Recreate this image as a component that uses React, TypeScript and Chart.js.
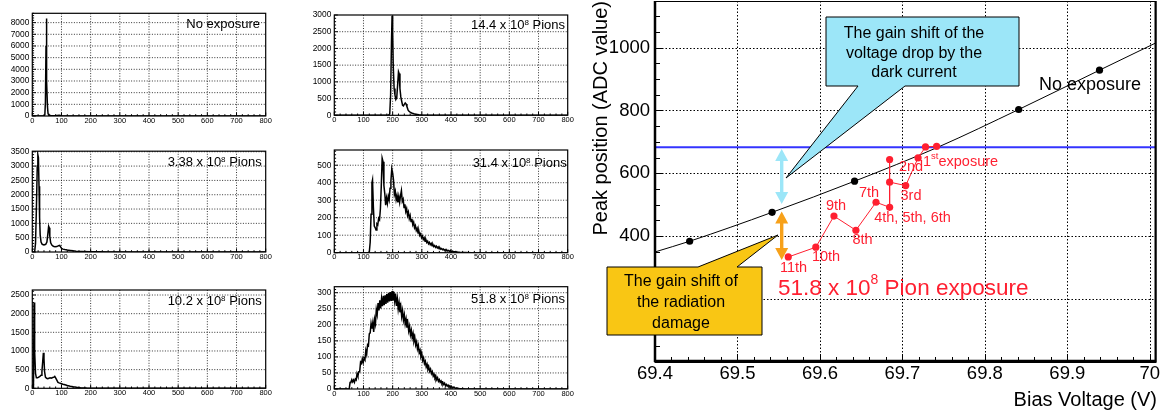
import React, { useEffect, useRef } from 'react';
import { Chart, registerables } from 'chart.js';

Chart.register(...registerables);

const FONT = '"Liberation Sans", Arial, Helvetica, sans-serif';

// ---------------- Main chart data ----------------
const noExposureVoltage = [69.442, 69.542, 69.642, 69.841, 69.939];
const noExposurePeak = [384, 476, 575, 803, 928];
const fitVoltage = [69.4, 69.442, 69.542, 69.642, 69.743, 69.841, 69.939, 70.0075];
const fitPeak = [350, 384, 476, 575, 683, 803, 928, 1015];
const exposureVoltage = [69.7415, 69.728, 69.719, 69.704, 69.6845, 69.6845, 69.6845, 69.668, 69.6436, 69.617, 69.595, 69.5616];
const exposurePeak = [686, 684, 649, 561, 572, 644, 492, 508, 419, 464, 365, 334];
const referenceVoltage = [69.39, 70.0075];
const referencePeak = [683, 683];
const exposureLabels = ['2nd', '3rd', '4th, 5th, 6th', '7th', '8th', '9th', '10th', '11th'];
const mainYTicks = [0, 200, 400, 600, 800, 1000];
const mainXTicks = [69.4, 69.5, 69.6, 69.7, 69.8, 69.9, 70];

// ---------------- Small histogram data (ADC value, counts) ----------------
const adcTicks = [0, 100, 200, 300, 400, 500, 600, 700, 800];

const noExpAdc = [0, 40, 43, 45, 47, 48, 49, 50, 52, 54, 57, 60, 75, 85, 92, 100, 110, 130, 800];
const noExpCounts = [0, 0, 100, 1200, 6000, 8350, 6500, 3000, 800, 200, 50, 20, 20, 50, 60, 30, 10, 0, 0];
const noExpYTicks = [0, 1000, 2000, 3000, 4000, 5000, 6000, 7000, 8000];

const p338Adc = [0, 8, 11, 14, 17, 19, 21, 23, 25, 27, 30, 34, 40, 46, 50, 53, 56, 58, 60, 63, 67, 72, 78, 84, 90, 94, 97, 100, 105, 112, 120, 130, 140, 150, 170, 200, 230, 260, 800];
const p338Counts = [0, 0, 300, 1500, 3000, 3400, 3300, 2300, 1200, 600, 350, 270, 250, 270, 350, 600, 900, 850, 550, 320, 240, 200, 180, 190, 220, 230, 180, 130, 100, 85, 70, 55, 40, 30, 20, 10, 5, 0, 0];
const p338YTicks = [0, 500, 1000, 1500, 2000, 2500, 3000, 3500];

const p102Adc = [0, 4, 6, 8, 11, 14, 18, 22, 26, 30, 33, 36, 38, 40, 42, 45, 49, 53, 57, 61, 65, 70, 74, 77, 80, 84, 88, 92, 98, 105, 112, 120, 130, 140, 152, 165, 186, 210, 240, 800];
const p102Counts = [0, 0, 2300, 1000, 400, 280, 280, 300, 320, 350, 450, 750, 950, 800, 450, 300, 270, 260, 270, 280, 270, 290, 300, 320, 280, 220, 160, 145, 130, 110, 95, 75, 55, 40, 27, 18, 9, 3, 0, 0];
const p102YTicks = [0, 500, 1000, 1500, 2000, 2500];

const p144Adc = [0, 185, 190, 193, 196, 198, 200, 202, 205, 208, 211, 214, 217, 220, 222, 225, 228, 231, 234, 237, 240, 243, 246, 249, 252, 256, 260, 265, 270, 275, 280, 290, 300, 310, 800];
const p144Counts = [0, 0, 40, 600, 2200, 2980, 2500, 1500, 800, 600, 470, 520, 900, 1300, 1250, 800, 550, 420, 300, 280, 330, 370, 340, 260, 180, 120, 95, 70, 55, 40, 30, 15, 5, 0, 0];
const p144YTicks = [0, 500, 1000, 1500, 2000, 2500, 3000];

const p314Adc = [0, 117, 120, 123, 126, 129, 131, 134, 137, 140, 143, 146, 149, 152, 155, 158, 161, 164, 167, 170, 173, 176, 179, 182, 185, 188, 191, 194, 197, 200, 203, 206, 209, 212, 215, 218, 221, 224, 227, 230, 233, 236, 239, 242, 245, 248, 251, 254, 257, 260, 263, 266, 269, 272, 275, 278, 281, 284, 287, 290, 293, 296, 299, 302, 305, 308, 311, 314, 317, 320, 323, 326, 329, 332, 335, 338, 341, 344, 347, 350, 353, 356, 359, 362, 365, 368, 371, 374, 377, 380, 383, 386, 389, 392, 395, 398, 401, 405, 410, 415, 420, 425, 430, 440, 450, 470, 800];
const p314Counts = [0, 0, 5, 60, 220, 400, 416, 260, 152, 144, 130, 165, 159, 197, 188, 250, 380, 540, 520, 385, 338, 272, 313, 282, 323, 302, 368, 410, 480, 455, 415, 333, 352, 303, 327, 288, 322, 288, 327, 355, 294, 306, 259, 277, 235, 252, 214, 232, 195, 212, 178, 193, 160, 174, 143, 155, 127, 139, 112, 123, 99, 108, 86, 95, 76, 85, 66, 74, 58, 66, 51, 59, 46, 53, 40, 47, 35, 41, 31, 37, 27, 33, 23, 28, 20, 24, 17, 21, 14, 18, 11, 15, 10, 13, 8, 11, 6, 9, 4, 6, 3, 3, 2, 1, 1, 0, 0];
const p314YTicks = [0, 100, 200, 300, 400, 500];

const p518Adc = [0, 51, 54, 57, 60, 63, 66, 69, 72, 75, 78, 81, 84, 87, 90, 93, 96, 99, 102, 105, 108, 111, 114, 117, 120, 123, 126, 129, 132, 135, 138, 141, 144, 147, 150, 153, 156, 159, 162, 165, 168, 171, 174, 177, 180, 183, 186, 189, 192, 195, 198, 201, 204, 207, 210, 213, 216, 219, 222, 225, 228, 231, 234, 237, 240, 243, 246, 249, 252, 255, 258, 261, 264, 267, 270, 273, 276, 279, 282, 285, 288, 291, 294, 297, 300, 303, 306, 309, 312, 315, 318, 321, 324, 327, 330, 333, 336, 339, 342, 345, 348, 351, 354, 357, 360, 363, 366, 369, 372, 375, 378, 381, 384, 387, 390, 393, 396, 399, 402, 406, 410, 415, 420, 430, 440, 450, 800];
const p518Counts = [0, 0, 20, 22, 29, 22, 28, 21, 31, 28, 48, 40, 54, 54, 84, 80, 94, 82, 96, 91, 120, 108, 138, 135, 172, 175, 204, 188, 207, 178, 217, 203, 247, 232, 268, 245, 276, 251, 282, 258, 290, 261, 292, 265, 296, 269, 300, 273, 302, 274, 305, 275, 303, 274, 297, 259, 281, 249, 269, 239, 256, 226, 244, 215, 231, 203, 218, 191, 206, 181, 195, 169, 183, 160, 173, 149, 160, 137, 147, 125, 136, 113, 121, 101, 109, 89, 97, 79, 86, 69, 77, 61, 68, 55, 62, 48, 54, 40, 46, 35, 40, 29, 35, 24, 29, 21, 25, 17, 21, 14, 18, 10, 14, 9, 12, 7, 10, 5, 8, 3, 6, 2, 3, 1, 1, 0, 0];
const p518YTicks = [0, 50, 100, 150, 200, 250, 300];

// ---------------- helpers ----------------
function drawParts(ctx: any, x: number, y: number, parts: [string, number, number][], align: 'left' | 'right') {
  ctx.textBaseline = 'alphabetic';
  ctx.textAlign = 'left';
  const widths = parts.map(([t, s]) => { ctx.font = `${s}px ${FONT}`; return ctx.measureText(t).width; });
  const total = widths.reduce((a, b) => a + b, 0);
  let cx = align === 'right' ? x - total : x;
  parts.forEach(([t, s, r], i) => { ctx.font = `${s}px ${FONT}`; ctx.fillText(t, cx, y - r); cx += widths[i]; });
}

function fixAxis(size: number, horizontal: boolean) {
  return (s: any) => {
    if (horizontal) s.height = size; else s.width = size;
    s.paddingLeft = 0; s.paddingRight = 0; s.paddingTop = 0; s.paddingBottom = 0;
  };
}

function setTicks(values: number[]) {
  return (s: any) => { s.ticks = values.map((v) => ({ value: v })); };
}

// ---------------- small panel ----------------
type Area = { L: number; R: number; T: number; B: number };

function HistPanel(p: { area: Area; adc: number[]; counts: number[]; yMax: number; yTicks: number[]; parts: [string, number, number][]; labelRight: number; labelBase: number }) {
  const ref = useRef<HTMLCanvasElement>(null);
  const cx = Math.floor(p.area.L) - 32;
  const cy = Math.floor(p.area.T) - 10;
  const cw = Math.ceil(p.area.R) + 8 - cx;
  const ch = Math.ceil(p.area.B) + 18 - cy;
  useEffect(() => {
    const yStep = p.yTicks[1] - p.yTicks[0];
    const decor = {
      id: 'panelDecor',
      beforeDatasetsDraw(chart: any) {
        const { ctx, chartArea: a, scales: { x, y } } = chart;
        ctx.save();
        ctx.strokeStyle = '#000';
        ctx.lineWidth = 0.8;
        ctx.setLineDash([1, 1.6]);
        x.ticks.forEach((t: any) => {
          const px = x.getPixelForValue(t.value);
          if (px > a.left + 2 && px < a.right - 2) { ctx.beginPath(); ctx.moveTo(px, a.top); ctx.lineTo(px, a.bottom); ctx.stroke(); }
        });
        y.ticks.forEach((t: any) => {
          const py = y.getPixelForValue(t.value);
          if (py > a.top + 0.5 && py < a.bottom - 2) { ctx.beginPath(); ctx.moveTo(a.left, py); ctx.lineTo(a.right, py); ctx.stroke(); }
        });
        ctx.restore();
      },
      afterDatasetsDraw(chart: any) {
        const { ctx, chartArea: a, scales: { x, y } } = chart;
        ctx.save();
        ctx.strokeStyle = '#000';
        ctx.lineWidth = 1;
        for (let v = 0; v <= 800; v += 20) {
          const px = x.getPixelForValue(v);
          const len = v % 100 === 0 ? 3.5 : 1.8;
          ctx.beginPath(); ctx.moveTo(px, a.bottom); ctx.lineTo(px, a.bottom - len); ctx.stroke();
        }
        const minor = yStep / 5;
        for (let k = 0; k * minor <= p.yMax; k++) {
          const py = y.getPixelForValue(k * minor);
          const len = k % 5 === 0 ? 3.5 : 1.8;
          ctx.beginPath(); ctx.moveTo(a.left, py); ctx.lineTo(a.left + len, py); ctx.stroke();
        }
        ctx.lineWidth = 1.2;
        ctx.strokeRect(a.left, a.top, a.right - a.left, a.bottom - a.top);
        ctx.fillStyle = '#000';
        drawParts(ctx, p.labelRight - cx, p.labelBase - cy, p.parts, 'right');
        ctx.restore();
      },
    };
    const chart = new Chart(ref.current as any, {
      type: 'line',
      data: { datasets: [{ data: p.adc.map((a, i) => ({ x: a, y: p.counts[i] })), borderColor: '#000', borderWidth: 1.5, pointRadius: 0, fill: false, tension: 0 }] },
      options: {
        responsive: false, animation: false, devicePixelRatio: 1, events: [],
        layout: { padding: { left: 0, right: cx + cw - p.area.R, top: p.area.T - cy, bottom: 0 }, autoPadding: false },
        plugins: { legend: { display: false }, tooltip: { enabled: false } },
        scales: {
          x: {
            type: 'linear', min: 0, max: 800,
            grid: { display: false, drawTicks: false }, border: { display: false },
            ticks: { autoSkip: false, maxRotation: 0, padding: 0, color: '#000', font: { family: FONT, size: 7.5 }, callback: (v: any) => String(v) },
            afterBuildTicks: setTicks(adcTicks),
            afterFit: fixAxis(cy + ch - p.area.B, true),
          },
          y: {
            type: 'linear', min: 0, max: p.yMax,
            grid: { display: false, drawTicks: false }, border: { display: false },
            ticks: { autoSkip: false, padding: 3, color: '#000', font: { family: FONT, size: 8.4 }, callback: (v: any) => String(v) },
            afterBuildTicks: setTicks(p.yTicks),
            afterFit: fixAxis(p.area.L - cx, false),
          },
        },
      } as any,
      plugins: [decor],
    });
    return () => chart.destroy();
  }, []);
  return <canvas ref={ref} width={cw} height={ch} style={{ position: 'absolute', left: cx, top: cy, width: cw, height: ch }} />;
}

// ---------------- main chart ----------------
const MAIN_LEFT = 585;

function arrow2(ctx: any, x: number, y1: number, y2: number, color: string) {
  const hw = 6.5, hl = 12, sw = 1.7;
  ctx.fillStyle = color;
  ctx.beginPath();
  ctx.moveTo(x, y1); ctx.lineTo(x + hw, y1 + hl); ctx.lineTo(x + sw, y1 + hl); ctx.lineTo(x + sw, y2 - hl);
  ctx.lineTo(x + hw, y2 - hl); ctx.lineTo(x, y2); ctx.lineTo(x - hw, y2 - hl); ctx.lineTo(x - sw, y2 - hl);
  ctx.lineTo(x - sw, y1 + hl); ctx.lineTo(x - hw, y1 + hl); ctx.closePath(); ctx.fill();
}

function callout(ctx: any, pts: number[][], fill: string, lines: string[], cxText: number, ys: number[]) {
  ctx.beginPath();
  pts.forEach(([x, y], i) => (i === 0 ? ctx.moveTo(x, y) : ctx.lineTo(x, y)));
  ctx.closePath();
  ctx.fillStyle = fill; ctx.fill();
  ctx.strokeStyle = '#000'; ctx.lineWidth = 1; ctx.stroke();
  ctx.fillStyle = '#000';
  ctx.font = `16px ${FONT}`; ctx.textAlign = 'center'; ctx.textBaseline = 'middle';
  lines.forEach((l, i) => ctx.fillText(l, cxText, ys[i]));
}

const RED = '#ff1f30';

function MainChart() {
  const ref = useRef<HTMLCanvasElement>(null);
  useEffect(() => {
    const decor = {
      id: 'mainDecor',
      beforeDatasetsDraw(chart: any) {
        const { ctx, chartArea: a, scales: { x, y } } = chart;
        ctx.save();
        ctx.strokeStyle = '#000'; ctx.lineWidth = 1; ctx.setLineDash([1.5, 2]);
        x.ticks.forEach((t: any) => {
          const px = Math.round(x.getPixelForValue(t.value)) + 0.5;
          if (px > a.left + 3 && px < a.right - 3) { ctx.beginPath(); ctx.moveTo(px, a.top); ctx.lineTo(px, a.bottom); ctx.stroke(); }
        });
        y.ticks.forEach((t: any) => {
          const py = Math.round(y.getPixelForValue(t.value)) + 0.5;
          if (py > a.top + 3 && py < a.bottom - 3) { ctx.beginPath(); ctx.moveTo(a.left, py); ctx.lineTo(a.right, py); ctx.stroke(); }
        });
        ctx.restore();
      },
      afterDatasetsDraw(chart: any) {
        const { ctx, chartArea: a, scales: { x, y } } = chart;
        ctx.save();
        ctx.strokeStyle = '#000'; ctx.lineWidth = 1;
        for (let i = 0; i <= 30; i++) {
          const v = 69.4 + i * 0.02;
          const px = Math.round(x.getPixelForValue(v)) + 0.5;
          const len = i % 5 === 0 ? 8 : 5;
          ctx.beginPath(); ctx.moveTo(px, a.bottom); ctx.lineTo(px, a.bottom - len); ctx.stroke();
        }
        for (let v = 0; v <= 1100; v += 50) {
          const py = Math.round(y.getPixelForValue(v)) + 0.5;
          const len = v % 200 === 0 ? 8 : 5;
          ctx.beginPath(); ctx.moveTo(a.left, py); ctx.lineTo(a.left + len, py); ctx.stroke();
        }
        ctx.lineWidth = 1; ctx.strokeRect(a.left, a.top + 0.5, a.right - a.left, a.bottom - a.top);
        ctx.lineWidth = 2.5;
        ctx.beginPath(); ctx.moveTo(a.left, a.top); ctx.lineTo(a.left, a.bottom); ctx.stroke();
        ctx.beginPath(); ctx.moveTo(a.left, a.bottom - 1); ctx.lineTo(a.right, a.bottom - 1); ctx.stroke();
        ctx.lineWidth = 2;
        ctx.beginPath(); ctx.moveTo(a.right - 0.5, a.top); ctx.lineTo(a.right - 0.5, a.bottom); ctx.stroke();

        ctx.translate(-MAIN_LEFT, 0);
        arrow2(ctx, 781.7, 149, 204, '#9ce6f8');
        arrow2(ctx, 781.7, 211.5, 260, '#f7a11a');
        callout(ctx, [[826, 17], [1019, 17], [1019, 86], [905, 86], [786, 178], [858, 86], [826, 86]], '#9ce6f8',
          ['The gain shift of the', 'voltage drop by the', 'dark current'], 914, [33.5, 53.5, 73]);
        callout(ctx, [[607, 267], [698, 267], [778, 235], [737, 267], [762, 267], [762, 335], [607, 335]], '#f9c614',
          ['The gain shift of', 'the radiation', 'damage'], 681, [282, 303, 324]);
        ctx.fillStyle = RED; ctx.font = `14.5px ${FONT}`; ctx.textAlign = 'center'; ctx.textBaseline = 'middle';
        const labelPos = [[911, 167], [911, 196], [912.5, 217.5], [869, 193], [862.5, 240], [836, 206], [826, 257], [793.5, 267.5]];
        exposureLabels.forEach((l, i) => ctx.fillText(l, labelPos[i][0], labelPos[i][1]));
        drawParts(ctx, 923, 166, [['1', 14.5, 0], ['st', 9.5, 7], ['exposure', 14.5, 0]], 'left');
        drawParts(ctx, 778, 295, [['51.8 x 10', 22.5, 0], ['8', 14, 11], [' Pion exposure', 22.5, 0]], 'left');
        ctx.fillStyle = '#000';
        drawParts(ctx, 1039, 90, [['No exposure', 18, 0]], 'left');
        ctx.font = `20px ${FONT}`; ctx.textAlign = 'right'; ctx.textBaseline = 'alphabetic';
        ctx.fillText('Bias Voltage (V)', 1157, 406);
        ctx.save();
        ctx.translate(607, 1); ctx.rotate(-Math.PI / 2);
        ctx.fillText('Peak position (ADC value)', 0, 0);
        ctx.restore();
        ctx.restore();
      },
    };
    const chart = new Chart(ref.current as any, {
      type: 'line',
      data: {
        datasets: [
          { data: exposureVoltage.map((v, i) => ({ x: v, y: exposurePeak[i] })), borderColor: RED, borderWidth: 1, pointRadius: 3.6, pointBackgroundColor: RED, pointBorderWidth: 0, tension: 0 },
          { data: noExposureVoltage.map((v, i) => ({ x: v, y: noExposurePeak[i] })), showLine: false, pointRadius: 3.6, pointBackgroundColor: '#000', pointBorderWidth: 0 },
          { data: fitVoltage.map((v, i) => ({ x: v, y: fitPeak[i] })), borderColor: '#000', borderWidth: 1, pointRadius: 0, cubicInterpolationMode: 'monotone' },
          { data: referenceVoltage.map((v, i) => ({ x: v, y: referencePeak[i] })), borderColor: '#3434ff', borderWidth: 2, pointRadius: 0 },
        ],
      },
      options: {
        responsive: false, animation: false, devicePixelRatio: 1, events: [],
        layout: { padding: { left: 0, right: 10, top: 1, bottom: 0 }, autoPadding: false },
        plugins: { legend: { display: false }, tooltip: { enabled: false } },
        scales: {
          x: {
            type: 'linear', min: 69.4, max: 70.0075,
            grid: { display: false, drawTicks: false }, border: { display: false },
            ticks: { autoSkip: false, maxRotation: 0, padding: 1, color: '#000', font: { family: FONT, size: 18.5 },
              callback: (v: any) => (Math.abs(v - 70) < 1e-6 ? '70' : Number(v).toFixed(1)) },
            afterBuildTicks: setTicks(mainXTicks),
            afterFit: fixAxis(50, true),
          },
          y: {
            type: 'linear', min: 0, max: 1148,
            grid: { display: false, drawTicks: false }, border: { display: false },
            ticks: { autoSkip: false, padding: 5, color: '#000', font: { family: FONT, size: 18.5 },
              callback: (v: any) => (v === 0 ? '' : String(v)) },
            afterBuildTicks: setTicks(mainYTicks),
            afterFit: fixAxis(70, false),
          },
        },
      } as any,
      plugins: [decor],
    });
    return () => chart.destroy();
  }, []);
  return <canvas ref={ref} width={581} height={412} style={{ position: 'absolute', left: MAIN_LEFT, top: 0, width: 581, height: 412 }} />;
}

export default function App() {
  return (
    <div style={{ position: 'absolute', left: 0, top: 0, width: 1166, height: 412, background: '#fff', overflow: 'hidden' }}>
      <HistPanel area={{ L: 32.3, R: 265.7, T: 13.3, B: 116 }} adc={noExpAdc} counts={noExpCounts} yMax={8800} yTicks={noExpYTicks}
        parts={[['No exposure', 13, 0]]} labelRight={260} labelBase={28.3} />
      <HistPanel area={{ L: 334.3, R: 567.7, T: 15, B: 115.3 }} adc={p144Adc} counts={p144Counts} yMax={3000} yTicks={p144YTicks}
        parts={[['14.4 x 10', 13, 0], ['8', 8, 4.5], [' Pions', 13, 0]]} labelRight={565} labelBase={29.3} />
      <HistPanel area={{ L: 32.3, R: 265.7, T: 151.2, B: 252 }} adc={p338Adc} counts={p338Counts} yMax={3520} yTicks={p338YTicks}
        parts={[['3.38 x 10', 13, 0], ['8', 8, 4.5], [' Pions', 13, 0]]} labelRight={261.7} labelBase={166} />
      <HistPanel area={{ L: 334.3, R: 567.7, T: 150, B: 252.7 }} adc={p314Adc} counts={p314Counts} yMax={587} yTicks={p314YTicks}
        parts={[['31.4 x 10', 13, 0], ['8', 8, 4.5], [' Pions', 13, 0]]} labelRight={566.7} labelBase={167.3} />
      <HistPanel area={{ L: 32.3, R: 265.7, T: 290, B: 388.3 }} adc={p102Adc} counts={p102Counts} yMax={2634} yTicks={p102YTicks}
        parts={[['10.2 x 10', 13, 0], ['8', 8, 4.5], [' Pions', 13, 0]]} labelRight={261.7} labelBase={305} />
      <HistPanel area={{ L: 334.3, R: 567.7, T: 286.7, B: 389 }} adc={p518Adc} counts={p518Counts} yMax={318.7} yTicks={p518YTicks}
        parts={[['51.8 x 10', 13, 0], ['8', 8, 4.5], [' Pions', 13, 0]]} labelRight={565} labelBase={303.3} />
      <MainChart />
    </div>
  );
}
